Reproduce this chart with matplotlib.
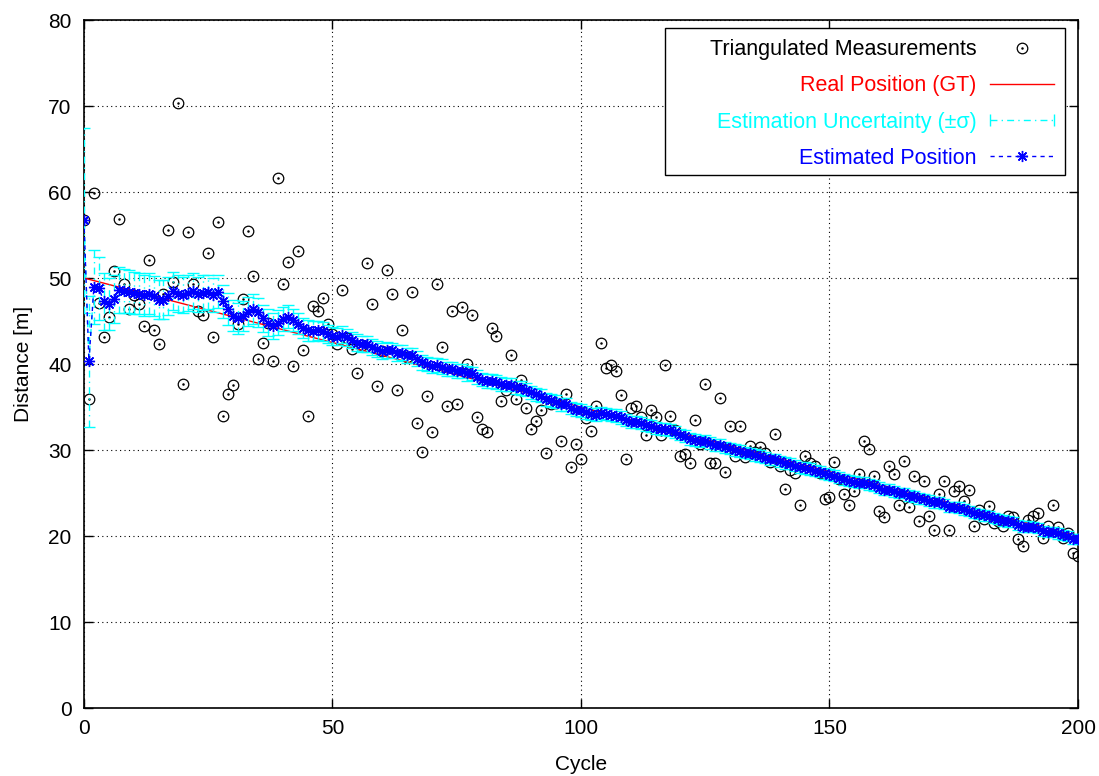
import matplotlib.pyplot as plt
from matplotlib.lines import Line2D
from matplotlib.patches import Rectangle
from matplotlib.legend_handler import HandlerLine2D

# Dados
cycles = list(range(201))

measured = [
    56.7, 35.9, 59.9, 47.1, 43.2, 45.5, 50.8, 56.9, 49.3, 46.4,
    48.0, 47.0, 44.4, 52.1, 44.0, 42.3, 48.2, 55.6, 49.5, 70.4,
    37.7, 55.4, 49.3, 46.2, 45.7, 52.9, 43.1, 56.5, 34.0, 36.5,
    37.6, 44.7, 47.6, 55.5, 50.2, 40.6, 42.4, 44.8, 40.4, 61.6,
    49.3, 51.9, 39.8, 53.2, 41.6, 34.0, 46.8, 46.2, 47.7, 44.7,
    43.5, 42.3, 48.6, 43.0, 41.7, 38.9, 42.2, 51.8, 47.0, 37.4,
    41.5, 50.9, 48.1, 37.0, 44.0, 40.8, 48.4, 33.2, 29.8, 36.3,
    32.1, 49.3, 42.0, 35.1, 46.2, 35.35, 46.6, 40.0, 45.7, 33.8,
    32.5, 32.1, 44.2, 43.3, 35.7, 37.0, 41.0, 35.9, 38.2, 34.9,
    32.4, 33.4, 34.7, 29.6, 35.35, 35.5, 31.05, 36.5, 28.0, 30.7,
    29.0, 33.7, 32.2, 35.1, 42.5, 39.5, 39.9, 39.15, 36.4, 29.0,
    34.9, 35.1, 33.8, 31.7, 34.65, 33.8, 31.7, 39.9, 33.9, 32.3,
    29.3, 29.5, 28.45, 33.5, 30.7, 37.7, 28.5, 28.5, 36.0, 27.4,
    32.85, 29.3, 32.85, 29.15, 30.5, 29.8, 30.3, 29.6, 28.6, 31.9,
    28.2, 25.5, 27.7, 27.3, 23.6, 29.3, 28.45, 28.1, 27.3, 24.25,
    24.5, 28.6, 26.6, 24.85, 23.65, 25.2, 27.2, 31.1, 30.15, 27.0,
    22.9, 22.25, 28.2, 27.2, 23.65, 28.7, 23.4, 27.0, 21.7, 26.4,
    22.3, 20.75, 24.85, 26.4, 20.75, 25.2, 25.85, 24.1, 25.3, 21.2,
    23.0, 22.0, 23.5, 21.55, 21.7, 21.2, 22.3, 22.2, 19.7, 18.8,
    21.9, 22.3, 22.7, 19.8, 21.2, 23.65, 21.05, 19.8, 20.3, 18.05,
    17.7,
]

estimated = [
    56.7, 40.3, 49.0, 48.8, 47.3, 47.0, 47.6, 48.6, 48.5, 48.4,
    48.3, 48.2, 48.0, 48.2, 47.9, 47.5, 47.5, 47.9, 48.5, 48.2,
    48.0, 48.3, 48.5, 48.1, 48.3, 48.4, 48.0, 48.4, 47.3, 46.4,
    45.6, 45.3, 45.6, 46.1, 46.4, 46.0, 45.3, 44.8, 44.4, 44.8,
    45.2, 45.5, 45.1, 44.7, 44.2, 43.9, 43.8, 43.9, 43.8, 43.5,
    43.3, 43.2, 43.4, 43.1, 42.8, 42.5, 42.3, 42.3, 42.0, 41.7,
    41.5, 41.6, 41.6, 41.3, 41.3, 41.0, 41.0, 40.6, 40.2, 40.0,
    39.8, 39.9, 39.7, 39.4, 39.4, 39.2, 39.2, 38.9, 38.9, 38.5,
    38.2, 38.0, 38.0, 37.9, 37.7, 37.6, 37.6, 37.3, 37.2, 37.0,
    36.7, 36.5, 36.3, 35.9, 35.8, 35.6, 35.3, 35.3, 34.9, 34.7,
    34.6, 34.4, 34.2, 34.1, 34.3, 34.2, 34.1, 34.0, 33.8, 33.5,
    33.3, 33.3, 33.1, 32.9, 32.8, 32.6, 32.4, 32.5, 32.3, 32.1,
    31.8, 31.6, 31.3, 31.2, 31.0, 31.1, 30.8, 30.6, 30.6, 30.3,
    30.2, 30.0, 29.9, 29.7, 29.6, 29.4, 29.3, 29.1, 28.9, 28.9,
    28.7, 28.5, 28.4, 28.2, 28.0, 27.9, 27.8, 27.6, 27.5, 27.3,
    27.1, 27.0, 26.8, 26.6, 26.4, 26.3, 26.2, 26.2, 26.0, 25.9,
    25.6, 25.4, 25.4, 25.2, 25.0, 25.0, 24.7, 24.6, 24.4, 24.3,
    24.1, 23.9, 23.9, 23.7, 23.4, 23.4, 23.3, 23.1, 22.9, 22.7,
    22.6, 22.4, 22.3, 22.1, 22.0, 21.8, 21.7, 21.6, 21.3, 21.1,
    21.1, 21.0, 20.9, 20.6, 20.5, 20.5, 20.3, 20.1, 20.0, 19.7,
    19.7,
]

sigma = [
    10.8, 7.6, 4.3, 3.7, 3.3, 3.0, 2.8, 2.7, 2.6, 2.5,
    2.45, 2.4, 2.4, 2.35, 2.3, 2.3, 2.25, 2.2, 2.2, 2.15,
    2.1, 2.1, 2.05, 2.0, 2.0, 1.95, 1.95, 1.9, 1.9, 1.85,
    1.8, 1.8, 1.75, 1.7, 1.7, 1.65, 1.6, 1.55, 1.5, 1.45,
    1.4, 1.35, 1.3, 1.25, 1.2, 1.2, 1.15, 1.1, 1.1, 1.05,
    1.05, 1.0, 1.0, 1.0, 0.98, 0.97, 0.96, 0.95, 0.94, 0.93,
    0.92, 0.91, 0.9, 0.9, 0.89, 0.88, 0.88, 0.87, 0.86, 0.86,
    0.85, 0.85, 0.84, 0.84, 0.83, 0.83, 0.82, 0.82, 0.81, 0.81,
    0.8, 0.8, 0.79, 0.79, 0.79, 0.78, 0.78, 0.78, 0.77, 0.77,
    0.77, 0.76, 0.76, 0.76, 0.75, 0.75, 0.75, 0.75, 0.74, 0.74,
    0.74, 0.74, 0.73, 0.73, 0.73, 0.73, 0.72, 0.72, 0.72, 0.72,
    0.71, 0.71, 0.71, 0.71, 0.70, 0.70, 0.70, 0.70, 0.70, 0.69,
    0.69, 0.69, 0.69, 0.69, 0.68, 0.68, 0.68, 0.68, 0.68, 0.68,
    0.67, 0.67, 0.67, 0.67, 0.67, 0.67, 0.66, 0.66, 0.66, 0.66,
    0.66, 0.66, 0.65, 0.65, 0.65, 0.65, 0.65, 0.65, 0.65, 0.64,
    0.64, 0.64, 0.64, 0.64, 0.64, 0.64, 0.63, 0.63, 0.63, 0.63,
    0.63, 0.63, 0.63, 0.63, 0.62, 0.62, 0.62, 0.62, 0.62, 0.62,
    0.62, 0.62, 0.61, 0.61, 0.61, 0.61, 0.61, 0.61, 0.61, 0.61,
    0.60, 0.60, 0.60, 0.60, 0.60, 0.60, 0.60, 0.60, 0.60, 0.60,
    0.59, 0.59, 0.59, 0.59, 0.59, 0.59, 0.59, 0.59, 0.59, 0.59,
    0.59,
]

gt_cycle = [0, 200]
gt_dist = [50, 20]

labels = ['Triangulated Measurements', 'Real Position (GT)',
          'Estimation Uncertainty (\u00b1\u03c3)', 'Estimated Position']
label_colors = ['black', 'red', 'cyan', 'blue']

plt.rcParams['font.family'] = ['Liberation Sans', 'DejaVu Sans']
plt.rcParams['font.size'] = 15

fig = plt.figure(figsize=(10.99, 7.76), dpi=100)
ax = fig.add_axes([0.0764, 0.0876, 0.9045, 0.8866])

dashdot = (0, (5, 3, 1, 3))

# medidas (circulo com ponto no meio)
circ, = ax.plot(cycles, measured, ls='none', marker='o', ms=7.6,
                mfc='none', mec='black', mew=0.9, zorder=2)
dot, = ax.plot(cycles, measured, ls='none', marker='o', ms=0.8,
               color='black', zorder=2)

# posicao real
gt_line, = ax.plot(gt_cycle, gt_dist, color='red', lw=1, zorder=3)

# incerteza
eb = ax.errorbar(cycles, estimated, yerr=sigma, color='cyan', ls=dashdot,
                 lw=1, elinewidth=1, capsize=4.5, capthick=1, zorder=4)
eb[2][0].set_linestyle(dashdot)

# estimativa
est_line, = ax.plot(cycles, estimated, color='blue', ls=(0, (3, 3)), lw=1,
                    marker=(8, 2, 0), ms=8, mew=1, zorder=5)

ax.set_xlim(0, 200)
ax.set_ylim(0, 80)
ax.set_xticks(range(0, 201, 50))
ax.set_yticks(range(0, 81, 10))
ax.tick_params(direction='in', length=6.5, width=1, top=True, right=True,
               labelsize=15)
ax.tick_params(axis='x', pad=8)
ax.tick_params(axis='y', pad=9)
ax.grid(True, color='black', ls=(0, (1, 3)), lw=0.8)
ax.set_axisbelow(True)
for s in ax.spines.values():
    s.set_linewidth(1.2)

ax.set_xlabel('Cycle', labelpad=12)
ax.set_ylabel('Distance [m]', labelpad=11)

# caixa da legenda (estilo gnuplot, mais larga que o conteudo)
box = Rectangle((0.5845, 0.775), 0.4025, 0.213, transform=ax.transAxes,
                facecolor='white', edgecolor='black', lw=1, zorder=8)
ax.add_patch(box)

h_unc = Line2D([], [], color='cyan', ls=dashdot, lw=1, marker='|', ms=9, mew=1)
leg = ax.legend([(circ, dot), gt_line, h_unc, est_line], labels,
                loc='upper right', bbox_to_anchor=(0.987, 0.988),
                borderaxespad=0, markerfirst=False, handlelength=3,
                handletextpad=0.6, labelspacing=0.71, borderpad=0.5,
                frameon=False, fontsize=15.5,
                handler_map={h_unc: HandlerLine2D(numpoints=2, marker_pad=0)})
leg.set_zorder(9)
for t, c in zip(leg.get_texts(), label_colors):
    t.set_color(c)

fig.savefig('out.png', dpi=100)
